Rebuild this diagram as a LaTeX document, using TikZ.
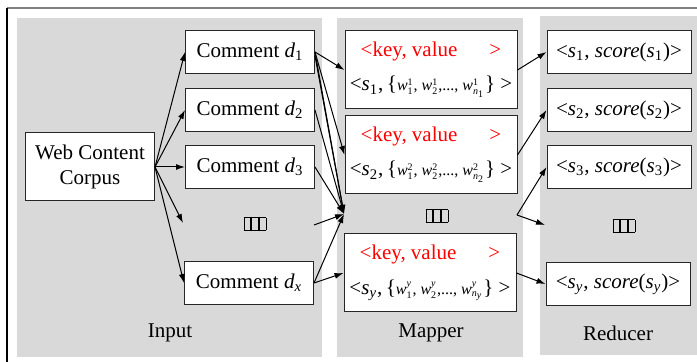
\documentclass[tikz,border=0pt]{standalone}
\usepackage{fontspec}
\setmainfont{Liberation Serif}
\usetikzlibrary{arrows.meta}
\definecolor{panelgray}{HTML}{D9D9D9}
\newcommand{\tofu}{{\fboxsep=0pt\fboxrule=0.4pt%
  \fbox{\rule{0pt}{6pt}\hspace{3pt}}\fbox{\rule{0pt}{6pt}\hspace{3pt}}\fbox{\rule{0pt}{6pt}\hspace{3pt}}}}
\newcommand{\wt}[2]{$\mbox{\textit{w}}^{\mbox{\tiny#1}}_{\mbox{\tiny#2}}$}
\newcommand{\kv}{\textcolor{red}{<key, value\hspace{16pt}>}}
\newcommand{\sw}[2]{<\textit{s}\textsubscript{#1},\,\{{\footnotesize\wt{#2}{1}, \wt{#2}{2},..., \wt{#2}{\textit{n}\textsubscript{#1}}}\} >}
\begin{document}
\begin{tikzpicture}[x=0.5pt,y=-0.5pt,font=\rmfamily\fontsize{10.5}{12.6}\selectfont,
  box/.style={draw=black!85,fill=white,line width=0.5pt,inner sep=1pt},
  cbox/.style={box,minimum width=64.5pt,minimum height=21.5pt},
  mbox/.style={box,minimum width=86pt,minimum height=39pt,align=center},
  rbox/.style={box,minimum width=72pt,minimum height=21.5pt},
  arr/.style={-{Latex[length=4.5pt,width=3pt]},line width=0.5pt}]
\def\inputpanel{(17,18) rectangle (322,357)}
\def\mapperpanel{(337,18) rectangle (523,357)}
\def\reducerpanel{(540,16) rectangle (697,355)}
\useasboundingbox (0,0) rectangle (697,362);
\fill[panelgray] \inputpanel;
\fill[panelgray] \mapperpanel;
\fill[panelgray] \reducerpanel;
\draw[black!50,line width=1pt] (7,8) -- (697,8);
\draw[line width=0.7pt] (7,8) -- (7,362);
% input
\node[box,minimum width=64.5pt,minimum height=34pt,align=center] (corpus) at (90,167) {Web Content\\Corpus};
\node[cbox] (d1) at (250,52) {Comment \textit{d}\textsubscript{1}};
\node[cbox] (d2) at (250,110) {Comment \textit{d}\textsubscript{2}};
\node[cbox] (d3) at (250,167) {Comment \textit{d}\textsubscript{3}};
\node (intofu) at (255,224) {\tofu};
\node[cbox] (dx) at (249,283) {Comment \textit{d}\textsubscript{\textit{x}}};
\node (inlab) at (170,333) {Input};
\coordinate (gapin) at (183,223);
\coordinate (inr) at (314,225);
% mapper
\node[mbox] (m1) at (431,70) {\kv\\[4.5pt]\sw{1}{1}};
\node[mbox] (m2) at (431,155) {\kv\\[4.5pt]\sw{2}{2}};
\node (mtofu) at (437,216) {\tofu};
\node[mbox] (m3) at (430,273) {\kv\\[4.5pt]\sw{\textit{y}}{\textit{y}}};
\node (maplab) at (431,333) {Mapper};
\coordinate (mconv) at (344,214);
\coordinate (mout) at (517,215);
% reducer
\node[rbox] (r1) at (619,52) {<\textit{s}\textsubscript{1}, \textit{score}(\textit{s}\textsubscript{1})>};
\node[rbox] (r2) at (619,110) {<\textit{s}\textsubscript{2}, \textit{score}(\textit{s}\textsubscript{2})>};
\node[rbox] (r3) at (619,167) {<\textit{s}\textsubscript{3}, \textit{score}(\textit{s}\textsubscript{3})>};
\node (rtofu) at (624,226) {\tofu};
\node[rbox] (ry) at (618,284) {<\textit{s}\textsubscript{\textit{y}}, \textit{score}(\textit{s}\textsubscript{\textit{y}})>};
\node (redlab) at (618,333) {Reducer};
\coordinate (rin) at (545,225);
% connectors
\foreach \t in {d1.west,d2.west,d3.west,gapin,dx.west}
  \draw[arr] (corpus.east) -- (\t);
\draw[arr] (d1.east) -- (m1.west);
\draw[arr] (d1.east) -- (m2.west);
\draw[arr] (d1.east) -- (mconv);
\draw[arr] ([yshift=-2pt]d1.east) -- (mconv);
\foreach \s in {d2.east,d3.east,inr,dx.east}
  \draw[arr] (\s) -- (mconv);
\draw[arr] (dx.east) -- (m3.west);
\draw[arr] (m1.east) -- (r1.west);
\draw[arr] (m2.east) -- (r2.west);
\draw[arr] (mout) -- (r3.west);
\draw[arr] (mout) -- (rin);
\draw[arr] (m3.east) -- (ry.west);
\end{tikzpicture}
\end{document}
